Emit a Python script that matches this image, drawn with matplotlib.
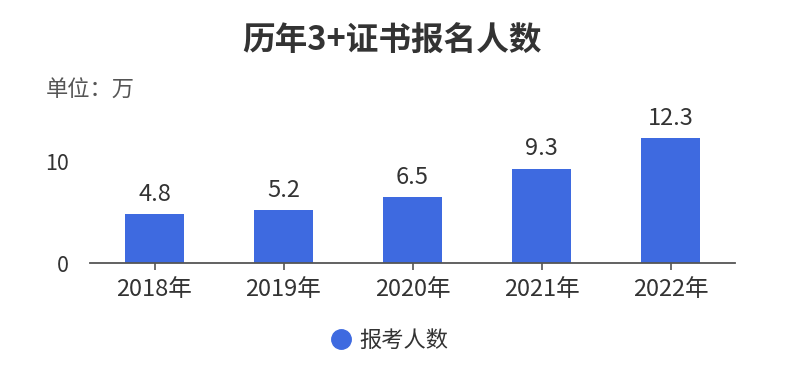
import matplotlib
matplotlib.use("Agg")
import matplotlib.pyplot as plt
from matplotlib.lines import Line2D

plt.rcParams['font.family'] = ['Noto Sans CJK SC', 'DejaVu Sans']

categories = ["2018年", "2019年", "2020年", "2021年", "2022年"]
values = [4.8, 5.2, 6.5, 9.3, 12.3]
yticks = [0, 10]
series_name = "报考人数"
title = "历年3+证书报名人数"
unit_text = "单位：万"

bar_color = "#3e6ae0"
text_color = "#333333"

fig = plt.figure(figsize=(7.95, 3.75), dpi=100)
fig.patch.set_facecolor("white")
ax = fig.add_axes([90/795, 112/375, 645/795, 152/375])

x = list(range(len(categories)))
bars = ax.bar(x, values, width=0.465, color=bar_color, zorder=2)
ax.set_xlim(-0.5, len(categories) - 0.5)
ax.set_ylim(0, 15)
ax.set_xticks(x)
ax.set_xticklabels(categories, fontsize=17, color=text_color)
ax.set_yticks(yticks)
ax.set_yticklabels([str(t) for t in yticks], fontsize=15.5, color=text_color)
ax.tick_params(axis='y', length=0, pad=15)
ax.tick_params(axis='x', length=5, width=1.2, color="#555555", pad=6)
for s in ["top", "right", "left"]:
    ax.spines[s].set_visible(False)
ax.spines["bottom"].set_color("#555555")
ax.spines["bottom"].set_linewidth(1.3)

for xi, v in zip(x, values):
    ax.annotate(f"{v}", (xi, v), xytext=(0, 6), textcoords="offset points",
                ha="center", va="bottom", fontsize=17, color=text_color)

fig.text(392/795, 1 - 41/375, title, ha="center", va="center",
         fontsize=23.5, fontweight="bold", color=text_color)
fig.text(46/795, 1 - 90/375, unit_text, ha="left", va="center",
         fontsize=16, color="#555555")

handle = Line2D([], [], marker='o', linestyle='None', markersize=14,
                markerfacecolor=bar_color, markeredgecolor=bar_color)
fig.legend([handle], [series_name], loc="center", bbox_to_anchor=(389/795, 35/375),
           frameon=False, handletextpad=0.3, handlelength=1.0,
           labelcolor=text_color, prop={'size': 16})

fig.savefig("out.png", dpi=100, facecolor="white")
